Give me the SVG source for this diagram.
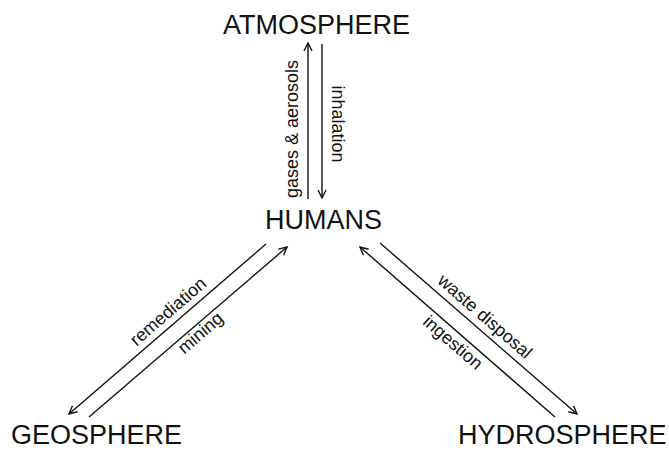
<svg xmlns="http://www.w3.org/2000/svg" width="669" height="450" viewBox="0 0 669 450">
  <style>
    .node { font-family: "Liberation Sans", Arial, sans-serif; font-size: 27px; fill: #111; }
    .lbl { font-family: "Liberation Sans", Arial, sans-serif; font-size: 18px; fill: #111; text-anchor: middle; }
    .flow { stroke: #111; stroke-width: 1.4; fill: none; marker-end: url(#head); }
  </style>
  <defs>
    <marker id="head" markerUnits="userSpaceOnUse" markerWidth="12" markerHeight="12" viewBox="-10 -6 12 12" refX="0" refY="0" orient="auto">
      <path d="M-8,-4 L0,0 L-8,4" fill="none" stroke="#111" stroke-width="1.4"/>
    </marker>
  </defs>
  <rect width="669" height="450" fill="#fff"/>

  <g id="atmosphere"><text class="node" x="223" y="34">ATMOSPHERE</text></g>
  <g id="humans"><text class="node" x="265" y="229">HUMANS</text></g>
  <g id="geosphere"><text class="node" x="11" y="444">GEOSPHERE</text></g>
  <g id="hydrosphere"><text class="node" x="458" y="444">HYDROSPHERE</text></g>

  <g id="connectors">
    <!-- humans <-> atmosphere -->
    <line class="flow" x1="308" y1="199" x2="308" y2="43"/>
    <line class="flow" x1="322" y1="44" x2="322" y2="198"/>
    <!-- humans <-> geosphere -->
    <line class="flow" x1="266" y1="244" x2="69" y2="414"/>
    <line class="flow" x1="89" y1="417" x2="287" y2="247"/>
    <!-- humans <-> hydrosphere -->
    <line class="flow" x1="380" y1="243" x2="577" y2="414"/>
    <line class="flow" x1="555" y1="417" x2="360" y2="247"/>

    <text class="lbl" transform="translate(297.5,129) rotate(-90)">gases &amp; aerosols</text>
    <text class="lbl" transform="translate(331.5,124) rotate(90)">inhalation</text>
    <text class="lbl" transform="translate(172,316) rotate(-40.8)">remediation</text>
    <text class="lbl" transform="translate(204.3,337.4) rotate(-40.8)">mining</text>
    <text class="lbl" transform="translate(481,321) rotate(40.9)">waste disposal</text>
    <text class="lbl" transform="translate(449,347) rotate(40.9)">ingestion</text>
  </g>
</svg>
